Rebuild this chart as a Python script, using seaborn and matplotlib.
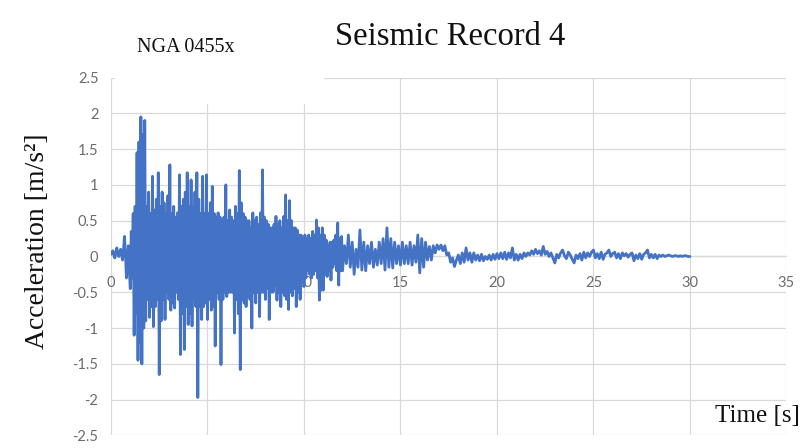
import numpy as np
import pandas as pd
import matplotlib
matplotlib.use("Agg")
import matplotlib.pyplot as plt
from matplotlib.patches import Rectangle
import seaborn as sns

# acceleration [m/s2], strong-motion part sampled every 0.05 s (0.00 - 11.95 s)
acc_strong = [
    0.03, 0.06, 0.08, 0.02, -0.02, 0.05, 0.12, 0.04, 0.00, 0.06,
    0.10, 0.02, -0.05, 0.10, 0.28, 0.05, -0.30, -0.10, 0.15, -0.20,
    -0.45, 0.35, -0.30, 0.60, -1.10, 0.70, -0.80, 1.45, -1.45, 1.60,
    -1.20, 1.95, -1.50, 1.70, -1.00, 1.90, -0.90, 0.70, -0.60, 0.90,
    -0.85, 0.60, -0.70, 1.12, -0.98, 0.65, -0.70, 0.80, -0.60, 1.17,
    -1.65, 0.70, -0.90, 0.90, -0.60, 0.75, -0.88, 0.60, -0.50, 0.85,
    -0.60, 1.28, -0.75, 0.60, -0.65, 0.70, -0.72, 0.55, -0.50, 0.61,
    -0.60, 1.14, -1.37, 0.70, -0.80, 0.80, -1.30, 0.90, -0.70, 1.17,
    -0.95, 0.70, -0.80, 1.07, -0.97, 0.70, -0.60, 0.90, -0.70, 1.17,
    -1.97, 0.80, -0.70, 0.60, -0.88, 1.12, -0.70, 0.60, -0.65, 1.14,
    -0.88, 0.60, -0.60, 0.75, -0.75, 0.98, -0.70, 0.60, -1.25, 0.55,
    -0.50, 0.61, -0.60, 0.55, -1.51, 0.50, -0.60, 0.55, -0.50, 1.00,
    -0.56, 0.50, -0.50, 0.65, -0.50, 0.55, -0.50, 0.50, -1.07, 0.70,
    -0.60, 0.60, -0.80, 1.20, -1.58, 0.75, -0.60, 0.60, -0.65, 0.55,
    -0.70, 0.50, -0.55, 0.50, -0.60, 0.40, -1.00, 0.61, -0.50, 0.50,
    -0.65, 0.55, -0.50, 0.45, -0.84, 0.61, -0.50, 1.21, -0.50, 0.55,
    -0.60, 0.50, -0.45, 0.45, -0.88, 0.40, -0.50, 0.40, -0.50, 0.45,
    -0.40, 0.56, -0.61, 0.45, -0.50, 0.50, -0.70, 0.40, -0.50, 0.56,
    -0.55, 0.86, -0.60, 0.50, -0.74, 0.78, -0.50, 0.50, -0.55, 0.40,
    -0.45, 0.40, -0.70, 0.37, -0.50, 0.30, -0.60, 0.30, -0.35, 0.25,
    -0.42, 0.30, -0.30, 0.25, -0.20, 0.30, -0.25, 0.25, -0.30, 0.35,
    -0.25, 0.30, -0.20, 0.51, -0.30, 0.40, -0.61, 0.30, -0.47, 0.40,
    -0.47, 0.30, -0.25, 0.23, -0.28, 0.15, -0.20, 0.20, -0.33, 0.20,
    -0.15, 0.23, -0.10, 0.30, -0.20, 0.47, -0.40, 0.25, -0.20, 0.28,
]
# coda part sampled every 0.1 s (12.0 - 30.0 s)
acc_coda = [
    -0.20, 0.15, -0.10, 0.30, -0.15, 0.20, -0.25, 0.10, -0.15, 0.37,
    -0.19, 0.20, -0.20, 0.15, -0.10, 0.20, -0.15, 0.10, -0.12, 0.20,
    -0.10, 0.25, -0.19, 0.40, -0.15, 0.25, -0.16, 0.20, -0.10, 0.15,
    -0.12, 0.20, -0.10, 0.15, -0.10, 0.20, -0.12, 0.15, -0.08, 0.30,
    -0.23, 0.25, -0.15, 0.20, -0.05, 0.14, -0.05, 0.15, 0.05, 0.16,
    0.10, 0.16, 0.08, 0.15, 0.02, 0.05, -0.08, -0.02, -0.14, -0.05,
    0.02, -0.10, 0.05, -0.08, 0.12, -0.05, 0.05, -0.08, 0.05, -0.05,
    0.02, -0.06, 0.03, -0.06, 0.00, -0.04, 0.02, -0.05, 0.03, -0.04,
    0.04, -0.03, 0.05, -0.03, 0.06, -0.04, 0.05, -0.02, 0.12, -0.05,
    0.03, -0.05, 0.03, -0.03, 0.05, 0.00, 0.05, 0.02, 0.08, 0.03,
    0.10, 0.04, 0.08, 0.02, 0.14, 0.03, 0.07, 0.00, 0.05, -0.02,
    -0.09, 0.03, -0.02, 0.05, 0.09, 0.01, -0.03, 0.06, 0.02, -0.04,
    -0.09, 0.02, -0.03, 0.04, -0.05, 0.06, -0.02, 0.05, 0.00, 0.06,
    0.09, -0.02, 0.04, -0.03, 0.06, -0.04, 0.03, 0.05, 0.09, 0.00,
    0.04, 0.06, -0.02, 0.04, -0.03, 0.05, 0.01, 0.04, -0.01, 0.03,
    0.05, -0.06, 0.02, -0.03, 0.04, -0.04, 0.03, 0.05, 0.09, -0.02,
    0.03, -0.02, 0.03, -0.03, 0.02, 0.00, 0.02, 0.00, 0.01, 0.02,
    0.01, 0.00, 0.01, 0.01, 0.00, 0.01, 0.00, 0.01, 0.01, 0.00,
    0.00,
]
dt_strong = 0.05
dt_coda = 0.1
t_coda_start = 12.0

x_ticks = [0, 5, 10, 15, 20, 25, 30, 35]
y_ticks = [-2.5, -2, -1.5, -1, -0.5, 0, 0.5, 1, 1.5, 2, 2.5]
y_tick_labels = ["-2.5", "-2", "-1.5", "-1", "-0.5", "0", "0.5", "1", "1.5", "2", "2.5"]

t_strong = np.arange(len(acc_strong)) * dt_strong
t_coda = t_coda_start + np.arange(len(acc_coda)) * dt_coda
df = pd.DataFrame({
    "time": np.concatenate([t_strong, t_coda]),
    "acc": acc_strong + acc_coda,
})

sns.set_theme(style="white")
plt.rcParams["font.family"] = ["Lato", "DejaVu Sans"]

fig = plt.figure(figsize=(8.06, 4.48), dpi=100)
ax = fig.add_axes([0.1377, 0.028, 0.838, 0.799])

sns.lineplot(data=df, x="time", y="acc", ax=ax, color="#4472C4",
             linewidth=2.0, estimator=None, sort=False, zorder=3)

ax.set_xlim(0, 35)
ax.set_ylim(-2.5, 2.5)
ax.set_xticks(x_ticks)
ax.set_yticks(y_ticks)
ax.set_yticklabels(y_tick_labels)
ax.set_axisbelow(True)
ax.grid(True, color="#D9D9D9", linewidth=0.9)

for side in ["top", "right", "left"]:
    ax.spines[side].set_visible(False)
ax.spines["bottom"].set_position(("data", 0))
ax.spines["bottom"].set_color("#D9D9D9")
ax.spines["bottom"].set_linewidth(0.9)

ax.tick_params(axis="both", length=0, labelsize=10.5, labelcolor="#6b6b6b")
ax.tick_params(axis="x", pad=14)
ax.tick_params(axis="y", pad=9)
ax.set_xlabel("")
ax.set_ylabel("")

# white label box at the top left of the plot area
ax.add_patch(Rectangle((0.006, 0.925), 0.31, 0.08, transform=ax.transAxes,
                       facecolor="white", edgecolor="none", zorder=1,
                       clip_on=False))

serif = ["Liberation Serif", "DejaVu Serif"]
fig.text(0.558, 0.918, "Seismic Record 4", family=serif, fontsize=23.5,
         ha="center", va="center", color="#111111")
fig.text(0.170, 0.895, "NGA 0455x", family=serif, fontsize=14.5,
         ha="left", va="center", color="#111111")
fig.text(0.047, 0.462, "Acceleration [m/s²]", family=serif, fontsize=20,
         rotation=90, ha="center", va="center", color="#111111")
fig.text(0.993, 0.071, "Time [s]", family=serif, fontsize=18,
         ha="right", va="center", color="#111111")

fig.savefig("out.png", dpi=100)
